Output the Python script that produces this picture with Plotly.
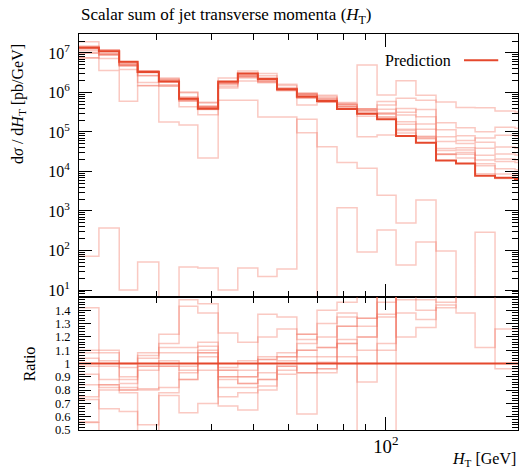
import plotly.graph_objects as go

# ---------------- data ----------------
EDGES = [20.0, 22.2, 24.7, 27.2, 30.4, 33.8, 37.3, 41.5, 46.0, 51.1, 56.5, 62.7,
         69.7, 77.4, 86.0, 95.5, 105.5, 117.1, 130.1, 144.5, 159.7, 177.3, 196.9, 218.7]

PRED = [1.35e7, 1.1e7, 6.0e6, 3.3e6, 1.9e6, 6.9e5, 3.9e5, 1.9e6, 3.0e6, 2.2e6, 1.2e6, 7.8e5,
        6.1e5, 3.8e5, 2.9e5, 2.1e5, 7.9e4, 5.3e4, 1.9e4, 1.6e4, 7.8e3, 6.9e3, 6.5e3]

# variations given as ratio to the prediction
R_A = [1.42, 1.10, 1.00, 1.08, 1.22, 1.48, 1.45, 1.23, 1.16, 1.37, 1.35, 1.22, 1.40, 1.46, 17.0, 4.1, 25.0, 16.0, 30.0, 26.0, 53.0, 49.0, 49.0]
R_B = [1.10, 1.08, 0.97, 1.06, 1.15, 1.43, 1.38, 0.97, 1.02, 1.20, 1.26, 1.18, 1.30, 1.38, 1.34, 2.3, 9.0, 12.0, 9.0, 8.0, 13.0, 19.0, 19.0]
R_C = [1.08, 1.02, 0.90, 1.04, 1.12, 1.12, 1.16, 0.95, 0.95, 1.05, 1.08, 1.15, 1.20, 1.35, 1.28, 1.46, 5.0, 4.6, 6.0, 5.0, 7.0, 6.0, 6.0]
R_D = [1.04, 0.98, 0.88, 0.98, 1.08, 1.08, 1.13, 0.90, 0.90, 1.03, 1.05, 1.10, 1.12, 1.28, 1.20, 1.37, 3.4, 3.0, 3.0, 3.2, 5.0, 4.0, 4.0]
R_E = [0.98, 0.88, 0.85, 0.95, 1.02, 0.98, 1.10, 0.88, 0.85, 0.93, 1.02, 1.05, 1.05, 1.18, 1.10, 1.35, 2.3, 2.2, 2.0, 2.5, 3.3, 3.0, 3.0]
R_F = [0.92, 0.84, 0.82, 0.81, 0.98, 0.95, 1.08, 0.82, 0.82, 0.88, 0.98, 0.93, 1.01, 1.15, 1.00, 1.15, 2.0, 1.48, 1.46, 1.9, 2.5, 2.6, 2.6]
R_G = [0.84, 0.82, 0.80, 0.80, 0.82, 0.93, 1.05, 0.75, 0.78, 0.83, 0.95, 1.10, 0.96, 1.05, 0.86, 1.10, 1.48, 1.40, 1.44, 1.38, 1.12, 1.26, 1.26]
R_H = [0.75, 0.80, 0.78, 0.54, 0.78, 0.88, 0.95, 0.68, 0.65, 0.80, 0.92, 0.62, 0.93, 1.00, 0.26, 0.40, 1.38, 1.33, 1.42, 1.7, 1.8, 0.96, 0.96]
R_I = [0.73, 0.66, 0.64, 0.45, 0.76, 0.63, 0.70, 0.90, 0.85, 0.88, 0.98, 0.93, 0.96, 1.15, 1.20, 1.8, 1.20, 1.27, 1.8, 2.2, 2.0, 1.7, 1.7]
R_J = [0.56, 0.84, 0.80, 0.98, 0.98, 0.88, 1.08, 0.95, 0.90, 1.03, 1.05, 1.22, 1.12, 1.28, 1.34, 2.8, 4.0, 7.0, 4.0, 3.8, 9.0, 12.0, 12.0]

# strongly deviating variations, absolute values [pb/GeV]
OUT_1 = [72, 370, 10, 51, 3, 38, 36, 10, 36, 22, 34, 2.1e5, 3, 1.2e3, 92, 330, 43, 165, 97, 3, 290, 3, 3]
OUT_2 = [7.5e6, 3.6e6, 6.0e5, 1.5e6, 1.8e5, 1.5e5, 2.2e4, 6.4e5, 6.4e5, 2.4e5, 2.4e5, 9.5e4, 4.2e4,
         1.7e4, 1.2e4, 2.5e3, 5.0e2, 1.9e3, 3, 3, 3, 3, 3]

MAIN_TICKS = [1e1, 1e2, 1e3, 1e4, 1e5, 1e6, 1e7]
MAIN_TICK_TEXT = ["10<sup>1</sup>", "10<sup>2</sup>", "10<sup>3</sup>", "10<sup>4</sup>",
                  "10<sup>5</sup>", "10<sup>6</sup>", "10<sup>7</sup>"]
RATIO_TICKS = [0.5, 0.6, 0.7, 0.8, 0.9, 1.0, 1.1, 1.2, 1.3, 1.4]
RATIO_TICK_TEXT = ["0.5", "0.6", "0.7", "0.8", "0.9", "1", "1.1", "1.2", "1.3", "1.4"]

# ---------------- style ----------------
DARK = "#e5482d"
LIGHT = "rgba(240,105,85,0.36)"
FONT = "Liberation Serif"

fig = go.Figure()


def steps(vals):
    return EDGES, list(vals) + [vals[-1]]


variations = []
for r in [R_A, R_B, R_C, R_D, R_E, R_F, R_G, R_H, R_I, R_J]:
    variations.append([p * v for p, v in zip(PRED, r)])
variations.append(OUT_1)
variations.append(OUT_2)

for vals in variations:
    x, y = steps(vals)
    fig.add_trace(go.Scatter(x=x, y=y, mode="lines", xaxis="x", yaxis="y",
                             line=dict(color=LIGHT, width=1.5, shape="hv"),
                             showlegend=False, hoverinfo="skip"))
    rat = [v / p for v, p in zip(vals, PRED)]
    x, y = steps(rat)
    fig.add_trace(go.Scatter(x=x, y=y, mode="lines", xaxis="x2", yaxis="y2",
                             line=dict(color=LIGHT, width=1.5, shape="hv"),
                             showlegend=False, hoverinfo="skip"))

x, y = steps(PRED)
fig.add_trace(go.Scatter(x=x, y=y, mode="lines", xaxis="x", yaxis="y",
                         line=dict(color=DARK, width=2, shape="hv"),
                         name="Prediction", showlegend=False, hoverinfo="skip"))
x, y = steps([p / p for p in PRED])
fig.add_trace(go.Scatter(x=x, y=y, mode="lines", xaxis="x2", yaxis="y2",
                         line=dict(color=DARK, width=2, shape="hv"),
                         showlegend=False, hoverinfo="skip"))

axis_common = dict(showline=True, linecolor="black", linewidth=1, mirror="allticks",
                   ticks="inside", tickcolor="black", showgrid=False, zeroline=False,
                   automargin=False)

split = 133 / 396

fig.update_layout(
    width=521, height=470,
    margin=dict(l=79, r=3, t=34, b=40, autoexpand=False),
    paper_bgcolor="white", plot_bgcolor="white",
    font=dict(family=FONT, size=14, color="black"),
    xaxis=dict(axis_common, type="log", range=[1.30103, 2.30103], domain=[0, 1],
               anchor="y", showticklabels=False, dtick=1, ticklen=13, tickwidth=1,
               minor=dict(ticks="inside", ticklen=6, dtick="D1", tickcolor="black", showgrid=False)),
    yaxis=dict(axis_common, type="log", range=[0.823, 7.48], domain=[split, 1],
               anchor="x", tickvals=MAIN_TICKS, ticktext=MAIN_TICK_TEXT, ticklen=13,
               tickfont=dict(size=16), ticklabelstandoff=5,
               minor=dict(ticks="inside", ticklen=6, dtick="D1", tickcolor="black", showgrid=False)),
    xaxis2=dict(axis_common, type="log", range=[1.30103, 2.30103], domain=[0, 1],
                anchor="y2", dtick=1, ticklen=13, exponentformat="power",
                tickfont=dict(size=15),
                minor=dict(ticks="inside", ticklen=6, dtick="D1", tickcolor="black", showgrid=False)),
    yaxis2=dict(axis_common, range=[0.5, 1.5], domain=[0, split], anchor="x2",
                tickvals=RATIO_TICKS, ticktext=RATIO_TICK_TEXT, ticklen=12,
                tickfont=dict(size=12.5), ticklabelstandoff=5,
                minor=dict(ticks="inside", ticklen=6, dtick=0.02, tickcolor="black", showgrid=False)),
)

fig.add_annotation(text="Scalar sum of jet transverse momenta (<i>H</i><sub>T</sub>)",
                   xref="paper", yref="paper", x=0, y=1.0, yshift=5,
                   xanchor="left", yanchor="bottom", showarrow=False, font=dict(size=17))
fig.add_annotation(text="d<i>σ</i> / d<i>H</i><sub>T</sub> [pb/GeV]", textangle=-90,
                   xref="paper", yref="paper", x=-0.139, y=1.0, yshift=-8,
                   xanchor="center", yanchor="top", showarrow=False, font=dict(size=16))
fig.add_annotation(text="Ratio", textangle=-90,
                   xref="paper", yref="paper", x=-0.112, y=split / 2,
                   xanchor="center", yanchor="middle", showarrow=False, font=dict(size=16))
fig.add_annotation(text="<i>H</i><sub>T</sub> [GeV]",
                   xref="paper", yref="paper", x=1.0, y=-0.045,
                   xanchor="right", yanchor="top", showarrow=False, font=dict(size=16))
# legend
fig.add_annotation(text="Prediction", xref="paper", yref="paper", x=0.852, y=0.934,
                   xanchor="right", yanchor="middle", showarrow=False, font=dict(size=16))
fig.add_shape(type="line", xref="paper", yref="paper", x0=0.877, x1=0.955, y0=0.934, y1=0.934,
              line=dict(color=DARK, width=2))

fig.write_html("out.html", config={"displayModeBar": False},
               post_script="document.body.style.margin='0px';document.body.style.overflow='hidden';")
